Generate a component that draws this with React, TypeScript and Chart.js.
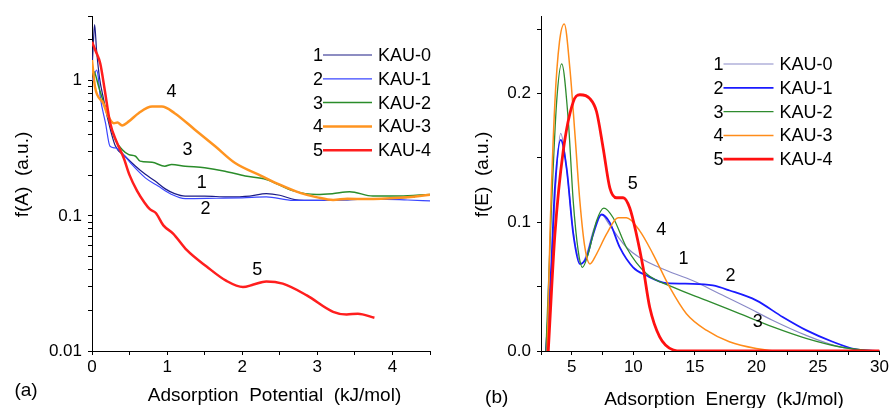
import React, { useEffect, useRef } from 'react';
import { Chart, registerables } from 'chart.js';

Chart.register(...registerables);

const FONT = '"Liberation Sans", Arial, Helvetica, sans-serif';

// ---------- Panel (a): f(A) vs adsorption potential ----------
const A_LABELS = ['KAU-0', 'KAU-1', 'KAU-2', 'KAU-3', 'KAU-4'];

const A0_X = [0, 0.02, 0.035, 0.06, 0.1, 0.15, 0.2, 0.31, 0.44, 0.58, 0.71, 0.84, 0.97, 1.1, 1.24, 1.5, 1.8, 2.1, 2.32, 2.5, 2.7, 3.0, 3.3, 3.6, 3.9, 4.3];
const A0_Y = [1.2, 2.0, 2.6, 1.7, 1.05, 0.75, 0.55, 0.33, 0.276, 0.233, 0.203, 0.181, 0.159, 0.146, 0.14, 0.14, 0.138, 0.14, 0.146, 0.142, 0.132, 0.13, 0.131, 0.133, 0.134, 0.138];

const A1_X = [0, 0.03, 0.06, 0.08, 0.11, 0.18, 0.24, 0.31, 0.4, 0.53, 0.71, 0.88, 1.06, 1.24, 1.66, 2.0, 2.32, 2.68, 3.0, 3.4, 3.8, 4.2, 4.5];
const A1_Y = [1.0, 1.1, 1.2, 1.1, 0.76, 0.485, 0.327, 0.318, 0.292, 0.24, 0.191, 0.166, 0.144, 0.134, 0.135, 0.136, 0.138, 0.13, 0.13, 0.132, 0.133, 0.131, 0.129];

const A2_X = [0, 0.04, 0.09, 0.2, 0.31, 0.4, 0.49, 0.58, 0.64, 0.8, 0.97, 1.06, 1.24, 1.5, 1.77, 2.04, 2.32, 2.68, 2.99, 3.2, 3.43, 3.74, 4.09, 4.5];
const A2_Y = [1.2, 1.13, 0.9, 0.575, 0.366, 0.31, 0.284, 0.276, 0.254, 0.249, 0.233, 0.24, 0.233, 0.227, 0.214, 0.197, 0.186, 0.153, 0.144, 0.146, 0.151, 0.14, 0.14, 0.144];

const A3_X = [0, 0.04, 0.15, 0.22, 0.29, 0.34, 0.4, 0.49, 0.62, 0.8, 0.93, 1.1, 1.37, 1.64, 1.9, 2.26, 2.5, 2.77, 3.0, 3.21, 3.4, 3.65, 4.09, 4.5];
const A3_Y = [1.42, 0.9, 0.68, 0.54, 0.485, 0.49, 0.467, 0.5, 0.575, 0.644, 0.644, 0.575, 0.434, 0.327, 0.247, 0.197, 0.17, 0.148, 0.137, 0.131, 0.134, 0.133, 0.136, 0.143];

const A4_X = [0, 0.05, 0.11, 0.17, 0.24, 0.33, 0.42, 0.5, 0.6, 0.7, 0.77, 0.85, 0.95, 1.08, 1.26, 1.53, 1.79, 2.01, 2.15, 2.32, 2.54, 2.86, 3.21, 3.39, 3.54, 3.76];
const A4_Y = [1.94, 1.65, 1.34, 0.85, 0.49, 0.35, 0.27, 0.2, 0.153, 0.125, 0.112, 0.105, 0.085, 0.074, 0.056, 0.042, 0.033, 0.0297, 0.031, 0.0327, 0.0315, 0.0258, 0.0195, 0.0186, 0.0189, 0.0176];

const A_X_TICKS = [0, 0.5, 1, 1.5, 2, 2.5, 3, 3.5, 4, 4.5];
const A_X_LABELS = ['0', '', '1', '', '2', '', '3', '', '4', ''];
const A_Y_TICKS = [0.01, 0.02, 0.03, 0.04, 0.05, 0.06, 0.07, 0.08, 0.09, 0.1, 0.2, 0.3, 0.4, 0.5, 0.6, 0.7, 0.8, 0.9, 1, 2, 3];
const A_Y_MAJOR = [0.01, 0.1, 1];
const A_Y_MAJOR_LABELS = ['0.01', '0.1', '1'];

// curve number labels for panel (a): [text, x, y]
const A_NOTES: [string, number, number][] = [
  ['4', 1.06, 0.83],
  ['3', 1.27, 0.305],
  ['1', 1.46, 0.176],
  ['2', 1.51, 0.112],
  ['5', 2.2, 0.0395],
];

// ---------- Panel (b): f(E) vs adsorption energy ----------
const B0_X = [2.9, 3.3, 3.7, 4.1, 4.6, 5.1, 5.5, 5.8, 6.2, 6.8, 7.4, 8.0, 8.6, 9.5, 10.5, 12.7, 14.8, 17.0, 19.2, 21.3, 24.0, 26.7, 29.0, 30];
const B0_Y = [0, 0.05, 0.13, 0.169, 0.14, 0.094, 0.073, 0.0676, 0.075, 0.095, 0.106, 0.099, 0.0907, 0.08, 0.0727, 0.0625, 0.0547, 0.0445, 0.0342, 0.0239, 0.0123, 0.0033, 0.0003, 0];

const B1_X = [2.9, 3.3, 3.63, 4.1, 4.58, 5.12, 5.66, 6.2, 6.74, 7.42, 8.09, 8.9, 9.98, 11.07, 12.69, 14.84, 16.46, 17.82, 19.98, 22.13, 24.03, 26.19, 28.0, 30];
const B1_Y = [0, 0.06, 0.127, 0.164, 0.142, 0.091, 0.0676, 0.0727, 0.0907, 0.106, 0.0997, 0.0804, 0.065, 0.0586, 0.0527, 0.0522, 0.0509, 0.047, 0.0393, 0.0264, 0.0162, 0.0072, 0.0015, 0];

const B2_X = [2.9, 3.37, 3.77, 4.18, 4.71, 5.12, 5.52, 5.87, 6.33, 7.01, 7.6, 8.36, 9.44, 11.07, 13.22, 15.93, 18.63, 21.33, 24.03, 26.73, 29.4, 30];
const B2_Y = [0, 0.116, 0.1935, 0.223, 0.18, 0.116, 0.078, 0.065, 0.0753, 0.101, 0.111, 0.1035, 0.0804, 0.06, 0.0496, 0.0393, 0.029, 0.0187, 0.0098, 0.0033, 0.0002, 0];

const B3_X = [3.0, 3.23, 3.63, 4.0, 4.39, 4.85, 5.26, 5.66, 6.07, 6.47, 7.01, 7.82, 8.76, 9.44, 10.52, 11.6, 12.95, 14.31, 15.93, 17.8, 19.98, 21.9, 30];
const B3_Y = [0, 0.091, 0.1935, 0.24, 0.254, 0.219, 0.168, 0.116, 0.08, 0.0676, 0.0753, 0.0907, 0.1035, 0.1035, 0.0933, 0.0753, 0.0496, 0.029, 0.0162, 0.0072, 0.002, 0, 0];

const B4_X = [3.09, 3.63, 4.3, 5.12, 5.66, 6.47, 7.01, 7.55, 8.09, 8.63, 9.17, 9.71, 10.25, 10.79, 11.33, 12.14, 13.2, 14, 30];
const B4_Y = [0, 0.0907, 0.155, 0.1935, 0.199, 0.196, 0.186, 0.1575, 0.1267, 0.119, 0.119, 0.111, 0.0907, 0.065, 0.034, 0.011, 0.001, 0, 0];

const B_LABELS = ['KAU-0', 'KAU-1', 'KAU-2', 'KAU-3', 'KAU-4'];
const B_X_TICKS = [2.5, 5, 7.5, 10, 12.5, 15, 17.5, 20, 22.5, 25, 27.5, 30];
const B_X_LABELS = ['', '5', '', '10', '', '15', '', '20', '', '25', '', '30'];
const B_Y_TICKS = [0, 0.05, 0.1, 0.15, 0.2, 0.25];
const B_Y_LABELS = ['0.0', '', '0.1', '', '0.2', ''];

const B_NOTES: [string, number, number][] = [
  ['5', 9.96, 0.13],
  ['4', 12.26, 0.094],
  ['1', 14.07, 0.0715],
  ['2', 17.9, 0.058],
  ['3', 20.1, 0.0226],
];

// ---------- styles ----------
const A_COLORS = ['#1c1c86', '#3a46ff', '#2a8c2a', '#ff9420', '#ff1e1e'];
const A_WIDTHS = [1.2, 1.2, 1.5, 2.5, 2.5];
const B_COLORS = ['#8a8ac8', '#1a1aff', '#2e8b2e', '#ff8c1a', '#ff1010'];
const B_WIDTHS = [1.2, 1.8, 1.3, 1.5, 2.8];

const pts = (xs: number[], ys: number[]) => xs.map((x, i) => ({ x, y: ys[i] }));

const decorPlugin = {
  id: 'decor',
  afterDraw(chart: any, _args: any, opts: any) {
    const ctx = chart.ctx;
    const xs = chart.scales.x;
    const ys = chart.scales.y;
    ctx.save();
    ctx.fillStyle = '#000';
    ctx.font = `18px ${FONT}`;
    ctx.textBaseline = 'middle';
    chart.data.datasets.forEach((ds: any, i: number) => {
      const y = opts.legendTop + i * opts.legendStep;
      ctx.textAlign = 'right';
      ctx.fillText(String(i + 1), opts.legendX, y + 1);
      ctx.strokeStyle = ds.borderColor;
      ctx.lineWidth = ds.borderWidth;
      ctx.beginPath();
      ctx.moveTo(opts.legendX, y);
      ctx.lineTo(opts.legendX + opts.legendLine, y);
      ctx.stroke();
      ctx.textAlign = 'left';
      ctx.fillText(ds.label, opts.legendX + opts.legendLine + 6, y + 1);
    });
    ctx.textAlign = 'center';
    opts.notes.forEach((n: [string, number, number]) => {
      ctx.fillText(n[0], xs.getPixelForValue(n[1]), ys.getPixelForValue(n[2]));
    });
    ctx.font = `19px ${FONT}`;
    ctx.fillText(opts.xTitle, opts.xTitlePos[0], opts.xTitlePos[1]);
    ctx.fillText(opts.panel, opts.panelPos[0], opts.panelPos[1]);
    ctx.save();
    ctx.translate(opts.yTitlePos[0], opts.yTitlePos[1]);
    ctx.rotate(-Math.PI / 2);
    ctx.fillText(opts.yTitle, 0, 0);
    ctx.restore();
    ctx.restore();
  },
};

function axisStyle() {
  return {
    grid: { display: true, drawOnChartArea: false, drawTicks: true, tickLength: 4, color: '#000', lineWidth: 1 },
    border: { display: true, color: '#000', width: 1 },
  };
}

function makeA(canvas: HTMLCanvasElement) {
  const series = [pts(A0_X, A0_Y), pts(A1_X, A1_Y), pts(A2_X, A2_Y), pts(A3_X, A3_Y), pts(A4_X, A4_Y)];
  return new Chart(canvas, {
    type: 'line',
    data: {
      datasets: series.map((d, i) => ({
        label: A_LABELS[i],
        data: d,
        borderColor: A_COLORS[i],
        borderWidth: A_WIDTHS[i],
        pointRadius: 0,
        fill: false,
        cubicInterpolationMode: 'monotone' as const,
        order: 5 - i,
      })),
    },
    options: {
      animation: false,
      responsive: false,
      events: [],
      layout: { padding: { top: 13, right: 11, left: 0, bottom: 0 } },
      plugins: {
        legend: { display: false },
        tooltip: { enabled: false },
        decor: {
          legendX: 323, legendTop: 55, legendStep: 23.8, legendLine: 49,
          notes: A_NOTES,
          xTitle: 'Adsorption  Potential  (kJ/mol)', xTitlePos: [274.5, 396],
          yTitle: 'f(A)  (a.u.)', yTitlePos: [22.5, 174.5],
          panel: '(a)', panelPos: [26, 391],
        },
      } as any,
      scales: {
        x: {
          type: 'linear', min: 0, max: 4.5,
          ...axisStyle(),
          afterFit: (s: any) => { s.height = 57; },
          afterBuildTicks: (s: any) => { s.ticks = A_X_TICKS.map((v) => ({ value: v })); },
          ticks: {
            autoSkip: false, maxRotation: 0, padding: 2, color: '#000',
            font: { family: FONT, size: 17 },
            callback: (_v: any, i: number) => A_X_LABELS[i],
          },
        },
        y: {
          type: 'logarithmic', min: 0.01, max: 3,
          ...axisStyle(),
          afterFit: (s: any) => { s.width = 92; },
          afterBuildTicks: (s: any) => { s.ticks = A_Y_TICKS.map((v) => ({ value: v })); },
          ticks: {
            autoSkip: false, padding: 6, color: '#000',
            font: { family: FONT, size: 17 },
            callback: (v: any) => {
              const k = A_Y_MAJOR.findIndex((m) => Math.abs(m - Number(v)) < 1e-9);
              return k >= 0 ? A_Y_MAJOR_LABELS[k] : '';
            },
          },
        },
      },
    } as any,
    plugins: [decorPlugin],
  });
}

function makeB(canvas: HTMLCanvasElement) {
  const series = [pts(B0_X, B0_Y), pts(B1_X, B1_Y), pts(B2_X, B2_Y), pts(B3_X, B3_Y), pts(B4_X, B4_Y)];
  return new Chart(canvas, {
    type: 'line',
    data: {
      datasets: series.map((d, i) => ({
        label: B_LABELS[i],
        data: d,
        borderColor: B_COLORS[i],
        borderWidth: B_WIDTHS[i],
        pointRadius: 0,
        fill: false,
        cubicInterpolationMode: 'monotone' as const,
        order: 5 - i,
      })),
    },
    options: {
      animation: false,
      responsive: false,
      events: [],
      layout: { padding: { top: 14, right: 10, left: 0, bottom: 0 } },
      plugins: {
        legend: { display: false },
        tooltip: { enabled: false },
        decor: {
          legendX: 282.5, legendTop: 64, legendStep: 23.8, legendLine: 50,
          notes: B_NOTES,
          xTitle: 'Adsorption  Energy  (kJ/mol)', xTitlePos: [283, 400],
          yTitle: 'f(E)  (a.u.)', yTitlePos: [42, 174.5],
          panel: '(b)', panelPos: [55.7, 398],
        },
      } as any,
      scales: {
        x: {
          type: 'linear', min: 2.5, max: 30,
          ...axisStyle(),
          afterFit: (s: any) => { s.height = 57; },
          afterBuildTicks: (s: any) => { s.ticks = B_X_TICKS.map((v) => ({ value: v })); },
          ticks: {
            autoSkip: false, maxRotation: 0, padding: 2, color: '#000',
            font: { family: FONT, size: 17 },
            callback: (_v: any, i: number) => B_X_LABELS[i],
          },
        },
        y: {
          type: 'linear', min: 0, max: 0.26,
          ...axisStyle(),
          afterFit: (s: any) => { s.width = 100; },
          afterBuildTicks: (s: any) => { s.ticks = B_Y_TICKS.map((v) => ({ value: v })); },
          ticks: {
            autoSkip: false, padding: 6, color: '#000',
            font: { family: FONT, size: 17 },
            callback: (_v: any, i: number) => B_Y_LABELS[i],
          },
        },
      },
    } as any,
    plugins: [decorPlugin],
  });
}

export default function App() {
  const refA = useRef<HTMLCanvasElement>(null);
  const refB = useRef<HTMLCanvasElement>(null);
  useEffect(() => {
    const a = makeA(refA.current!);
    const b = makeB(refB.current!);
    return () => { a.destroy(); b.destroy(); };
  }, []);
  return (
    <div style={{ position: 'absolute', left: 0, top: 0, width: 891, height: 408, background: '#fff', overflow: 'hidden' }}>
      <canvas ref={refA} width={441} height={408} style={{ position: 'absolute', left: 0, top: 0, width: 441, height: 408 }} />
      <canvas ref={refB} width={450} height={408} style={{ position: 'absolute', left: 441, top: 0, width: 450, height: 408 }} />
    </div>
  );
}
